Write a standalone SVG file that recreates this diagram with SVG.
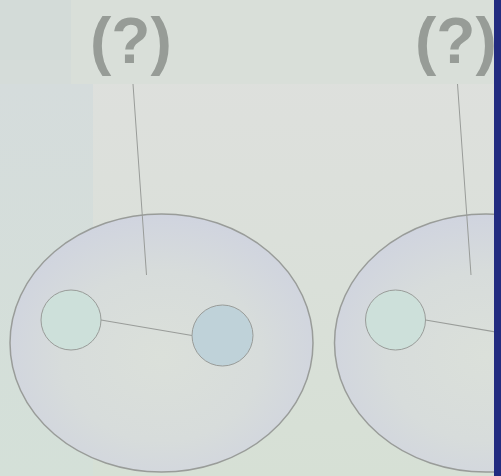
<svg xmlns="http://www.w3.org/2000/svg" width="501" height="476" viewBox="0 0 501 476">
<style>
.q{font-family:"Liberation Sans",Arial,sans-serif;font-weight:bold;font-size:64px;fill:#979c97}
.big{fill:url(#eg);stroke:#999c99;stroke-width:1.5}
.lead{stroke:#999c99;stroke-width:1;fill:none}
.edge{stroke:#999c99;stroke-width:1.2;fill:none}
.n1{fill:#cde0da;stroke:#999c99;stroke-width:1}
.n2{fill:#bfd2d9;stroke:#999c99;stroke-width:1}
</style>
<defs>
<linearGradient id="bg" x1="0" y1="0" x2="0" y2="1">
<stop offset="0" stop-color="#dfe0de"/>
<stop offset="0.5" stop-color="#dbe0da"/>
<stop offset="1" stop-color="#d6e0d5"/>
</linearGradient>
<linearGradient id="lbg" x1="0" y1="0" x2="0" y2="1">
<stop offset="0" stop-color="#d5dcdc"/>
<stop offset="1" stop-color="#d4e0d8"/>
</linearGradient>
<radialGradient id="eg" cx="0.5" cy="0.55" r="0.55">
<stop offset="0" stop-color="#dbe0da"/>
<stop offset="0.6" stop-color="#d7dcdb"/>
<stop offset="1" stop-color="#d0d4df"/>
</radialGradient>
</defs>
<g id="background">
<rect x="0" y="0" width="501" height="476" fill="url(#bg)"/>
<rect x="0" y="84" width="93" height="392" fill="url(#lbg)"/>
<rect x="71" y="0" width="430" height="84" fill="#d9dfd9"/>
<rect x="0" y="0" width="71" height="60" fill="#d3dbd8"/>
<rect x="0" y="60" width="71" height="24" fill="#d5dcd9"/>
</g>
<g id="group1">
<ellipse class="big" cx="161.5" cy="343" rx="151.5" ry="129"/>
<circle id="n1a" class="n1" cx="71" cy="320" r="30"/>
<circle id="n1b" class="n2" cx="222.5" cy="335.5" r="30.5"/>
</g>
<g id="group2">
<ellipse class="big" cx="486" cy="343" rx="151.5" ry="129"/>
<circle id="n2a" class="n1" cx="395.5" cy="320" r="30"/>
</g>
<g id="connectors">
<line class="lead" x1="133" y1="84" x2="146.5" y2="275"/>
<line class="lead" x1="457.5" y1="84" x2="471" y2="275"/>
<line class="edge" x1="101" y1="320" x2="192" y2="335.5"/>
<line class="edge" x1="425.5" y1="320" x2="516.5" y2="335.5"/>
</g>
<g id="label1"><text class="q" x="90" y="63">(?)</text></g>
<g id="label2"><text class="q" x="415" y="63">(?)</text></g>
<rect id="band" x="494" y="0" width="7" height="476" fill="#222b80"/>
</svg>
